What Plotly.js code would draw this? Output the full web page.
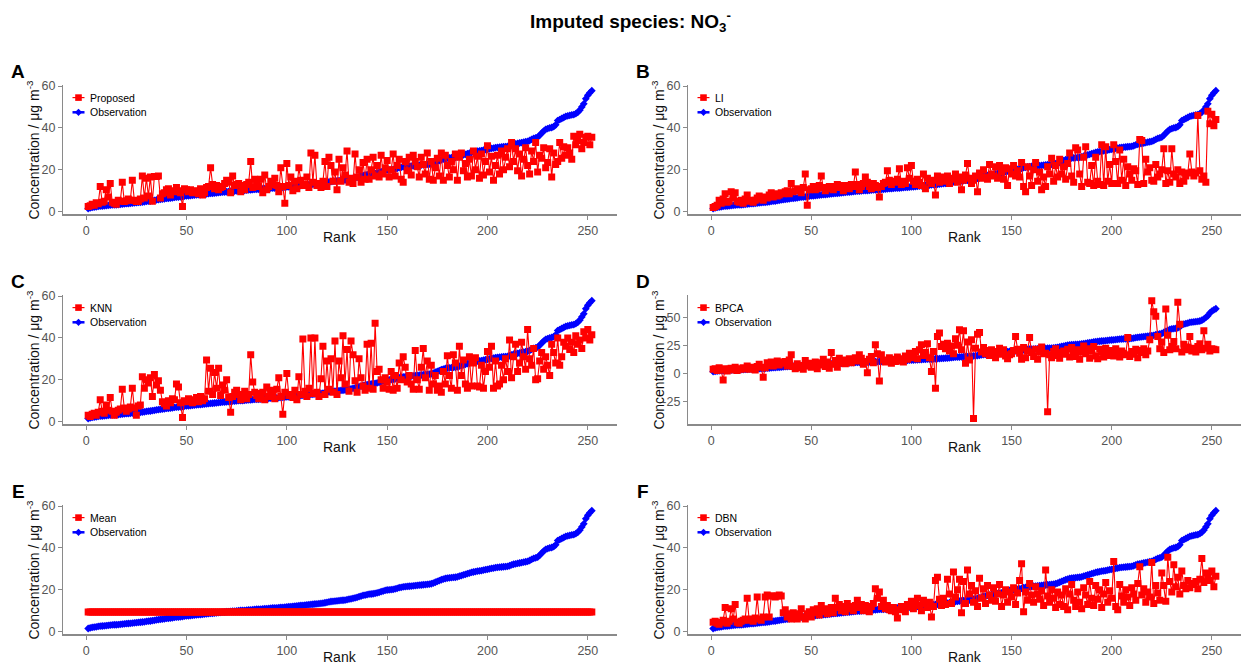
<!DOCTYPE html>
<html>
<head>
<meta charset="utf-8">
<script src="https://cdn.plot.ly/plotly-3.0.1.min.js"></script>
<style>
html,body{margin:0;padding:0;background:#ffffff;}
#chart{width:1243px;height:664px;}
</style>
</head>
<body>
<div id="chart"></div>
<script>
// ---------------- data ----------------
const observation = [
1.5,1.8,2.0,2.2,2.3,2.5,2.6,2.7,2.8,2.9,
3.0,3.1,3.2,3.3,3.3,3.4,3.5,3.6,3.7,3.8,
3.9,4.0,4.1,4.2,4.3,4.4,4.5,4.6,4.7,4.9,
5.0,5.1,5.3,5.4,5.6,5.7,5.9,6.0,6.1,6.3,
6.4,6.5,6.6,6.8,6.9,7.0,7.1,7.2,7.4,7.5,
7.6,7.7,7.8,7.9,8.0,8.1,8.2,8.3,8.4,8.5,
8.6,8.7,8.8,8.9,9.0,9.1,9.2,9.3,9.4,9.5,
9.6,9.7,9.8,9.8,9.9,10.0,10.1,10.1,10.2,10.3,
10.4,10.4,10.5,10.6,10.7,10.7,10.8,10.9,11.0,11.0,
11.1,11.2,11.3,11.3,11.4,11.5,11.6,11.6,11.7,11.8,
11.9,12.0,12.1,12.2,12.3,12.4,12.5,12.6,12.7,12.8,
12.9,13.0,13.1,13.2,13.3,13.4,13.5,13.6,13.8,14.0,
14.2,14.4,14.5,14.6,14.7,14.8,14.9,15.0,15.1,15.3,
15.5,15.7,15.9,16.1,16.4,16.7,17.0,17.3,17.5,17.7,
17.9,18.0,18.1,18.3,18.5,18.8,19.1,19.4,19.7,19.9,
20.0,20.1,20.2,20.4,20.7,21.0,21.2,21.4,21.5,21.6,
21.7,21.8,21.9,22.0,22.1,22.2,22.3,22.4,22.5,22.6,
22.7,22.9,23.2,23.6,24.0,24.4,24.8,25.1,25.4,25.6,
25.7,25.8,25.9,26.0,26.2,26.5,26.8,27.1,27.4,27.7,
28.0,28.3,28.5,28.7,28.9,29.0,29.2,29.4,29.6,29.8,
30.0,30.2,30.4,30.6,30.7,30.8,30.9,31.0,31.1,31.2,
31.5,31.9,32.2,32.4,32.6,32.8,33.0,33.2,33.4,33.6,
34.0,34.5,35.0,35.3,35.6,36.5,37.5,38.5,39.3,39.7,
40.0,40.2,40.6,41.5,43.5,44.0,44.5,45.0,45.5,45.8,
46.0,46.2,46.4,46.8,47.5,48.5,50.0,51.5,54.0,55.6,
56.8,57.8
];

const proposed = [
2.5,2.8,3.5,3.0,4.2,3.8,12.0,4.5,5.0,10.5,
7.0,13.5,4.5,4.0,3.5,5.5,5.0,14.0,4.8,5.2,
6.0,5.5,15.0,5.5,4.8,5.0,6.0,17.0,6.5,16.0,
7.5,16.5,5.0,16.8,16.8,17.0,6.5,8.5,9.0,10.5,
11.0,8.0,10.0,9.5,11.5,10.0,9.0,2.5,11.0,10.5,
9.5,10.5,9.0,9.8,10.0,8.5,11.0,8.0,9.0,11.5,
12.0,21.0,13.0,11.0,12.5,10.5,11.5,12.0,13.5,15.0,
14.0,9.0,17.0,12.5,13.0,13.5,9.5,12.5,10.5,13.0,
14.0,24.0,11.5,15.5,13.5,12.0,15.5,9.0,17.5,10.5,
12.0,14.5,13.0,16.0,12.5,9.5,21.0,12.0,4.0,23.0,
12.5,16.5,10.0,14.5,11.0,21.0,15.0,12.5,13.0,16.5,
11.5,28.0,14.0,27.0,12.5,13.5,11.5,14.5,24.0,12.0,
26.0,22.0,14.5,19.0,10.5,25.0,14.5,21.0,17.5,29.0,
14.0,16.0,13.5,27.5,16.5,20.0,14.0,23.5,15.5,25.0,
15.5,20.0,26.0,17.0,22.0,16.5,27.0,18.0,21.0,24.5,
16.5,20.0,27.5,17.0,22.0,25.0,15.5,14.0,24.0,19.5,
26.0,17.5,27.0,24.0,21.5,16.5,26.0,22.5,18.0,28.0,
15.5,24.0,15.0,21.0,25.5,17.0,28.0,15.0,27.0,22.0,
16.5,24.0,20.0,27.5,15.0,26.0,28.0,19.5,23.0,16.5,
25.0,17.0,29.0,20.0,26.5,16.0,27.5,17.5,24.0,31.5,
19.0,26.5,15.0,22.0,27.0,18.0,29.0,20.0,26.0,30.0,
21.5,33.0,24.0,30.0,19.5,27.5,17.0,25.0,30.5,22.0,
18.0,29.0,24.0,33.0,19.0,27.0,25.5,30.5,21.0,23.5,
30.0,16.5,28.0,22.5,24.0,33.0,25.5,31.0,27.0,30.5,
28.0,25.0,36.0,32.0,34.0,37.0,30.0,33.0,35.5,36.0,
32.0,35.5
];

const li = [
2.0,2.5,3.0,5.5,4.0,6.0,8.5,4.5,5.0,9.5,
6.5,9.0,5.0,4.5,5.5,4.0,6.0,8.0,5.0,5.5,
4.5,5.5,6.5,7.5,6.0,5.5,7.0,6.5,8.0,9.0,
7.0,8.5,7.5,8.0,9.0,8.5,9.5,10.0,8.5,13.5,
9.5,10.0,11.0,10.5,9.0,11.5,18.0,3.0,10.5,11.0,
12.0,10.5,11.0,12.5,17.0,11.5,10.0,11.5,12.0,11.0,
10.5,12.0,13.0,11.5,12.5,10.0,11.5,12.5,11.0,13.0,
12.0,19.0,13.0,10.5,12.0,13.5,16.5,14.0,12.0,11.0,
13.5,12.5,11.5,7.0,12.0,13.5,14.0,19.5,15.0,13.0,
14.5,14.0,15.5,20.5,13.0,14.5,13.5,21.0,16.0,22.0,
14.5,13.0,15.5,14.0,12.5,18.0,11.0,16.0,14.5,13.5,
15.0,8.0,17.0,14.0,16.5,14.5,15.0,17.0,13.5,16.0,
15.5,18.0,14.0,16.5,10.5,15.0,17.5,23.0,16.0,13.5,
15.0,17.0,9.5,18.5,16.0,20.0,16.5,15.5,22.5,18.0,
17.0,21.5,16.0,22.0,19.0,15.5,21.0,12.5,20.5,18.0,
22.0,17.0,19.5,16.5,23.5,12.0,9.5,21.5,17.0,12.5,
20.0,23.5,14.5,19.0,10.5,16.5,12.0,21.5,18.0,25.5,
14.5,22.0,16.5,25.0,18.0,21.5,15.5,23.0,28.0,17.0,
14.0,30.5,29.5,18.0,12.0,26.0,31.0,14.0,13.5,22.0,
12.5,26.0,14.5,13.0,32.0,12.5,31.0,14.5,22.5,13.5,
32.0,24.0,13.5,29.5,15.0,25.0,12.5,21.5,18.0,15.0,
20.5,19.5,13.0,34.5,34.0,13.5,25.0,19.0,21.0,15.0,
14.5,22.5,16.5,18.0,20.0,30.0,13.5,19.5,14.0,30.0,
18.0,16.5,20.0,13.5,19.0,14.5,17.0,18.5,27.5,19.0,
17.0,18.5,46.0,19.5,15.5,17.0,14.0,48.0,42.0,46.5,
41.0,44.0
];

const knn = [
3.0,2.5,3.5,4.0,3.0,4.5,10.5,5.0,4.0,8.0,
5.5,11.5,5.0,3.0,4.5,5.5,6.0,15.5,6.5,5.0,
6.0,7.0,16.0,6.5,3.0,7.5,8.0,21.5,16.0,20.0,
18.5,21.0,12.0,22.5,17.5,19.5,15.0,9.5,8.5,7.5,
10.0,9.0,11.0,10.5,18.0,16.5,9.0,2.0,10.0,9.5,
11.0,10.0,9.0,10.5,11.5,9.5,12.0,10.0,11.0,29.5,
14.5,25.5,13.0,23.5,16.0,25.5,12.5,17.5,15.0,20.0,
11.5,4.5,12.0,14.0,15.0,13.0,10.5,12.0,14.5,11.0,
13.0,32.0,19.0,14.0,12.5,11.0,13.5,14.0,10.5,16.5,
12.0,15.0,13.5,11.0,15.5,21.0,12.0,3.5,14.0,23.0,
12.5,13.0,11.5,15.0,10.5,21.5,13.0,39.5,14.5,12.0,
16.0,40.0,13.5,40.0,14.0,12.0,20.5,36.0,13.0,29.0,
15.5,30.0,14.0,38.5,13.0,29.0,21.0,41.0,18.0,34.5,
14.5,38.5,32.0,19.5,14.0,30.0,21.0,17.0,15.0,37.0,
16.0,37.5,15.5,47.0,24.0,25.0,20.0,16.0,21.0,19.0,
15.5,24.0,15.0,22.0,16.0,28.0,20.0,31.0,26.0,19.0,
22.0,18.0,15.5,34.0,20.0,15.5,26.0,35.0,21.0,29.0,
15.0,27.0,18.0,22.0,15.0,17.0,14.0,24.0,18.0,31.5,
22.0,16.0,32.0,28.0,15.0,36.0,22.0,29.5,18.0,16.0,
31.0,17.0,28.0,30.5,17.0,16.5,27.0,16.0,24.0,33.5,
26.0,36.0,16.0,29.0,17.0,18.0,27.0,20.0,30.0,24.0,
39.0,21.0,31.0,37.0,24.0,28.0,38.0,31.0,25.0,44.0,
30.0,27.0,35.0,20.0,20.5,29.0,33.0,25.0,31.0,27.0,
22.0,37.0,33.0,28.0,40.0,27.0,31.0,38.0,36.0,40.0,
34.5,38.0,33.0,41.0,37.0,39.0,35.0,43.0,40.0,44.0,
39.0,41.5
];

const bpca = [
3.5,4.0,2.5,5.0,3.0,-6.0,4.0,2.0,3.5,4.5,
3.0,5.5,2.5,4.0,3.5,5.0,4.0,6.5,3.5,5.5,
4.5,3.0,6.0,8.0,5.5,-3.5,5.0,9.5,7.0,10.0,
6.5,9.5,11.0,7.5,10.0,9.0,10.5,6.5,12.0,16.5,
6.0,4.0,8.5,5.0,7.0,3.5,11.5,6.5,9.0,5.5,
8.0,10.0,4.0,7.5,9.5,12.5,6.0,10.0,4.5,18.5,
8.0,11.5,5.5,13.5,9.0,12.0,8.5,10.5,13.0,9.5,
12.0,14.0,11.0,16.5,13.5,8.0,10.5,0.5,12.5,15.0,
9.5,25.5,17.5,-7.0,16.5,12.0,10.0,11.5,14.0,9.0,
12.5,10.5,14.5,11.0,13.0,10.0,15.5,12.5,18.0,14.0,
16.5,19.5,13.0,21.0,25.5,16.0,18.5,26.5,14.0,1.5,
19.5,-13.5,33.0,36.0,24.0,26.0,22.0,27.0,20.0,24.5,
17.5,31.0,25.0,39.0,21.0,38.0,9.0,28.0,12.0,30.0,
-40.5,22.5,35.0,36.5,19.0,23.0,17.5,20.5,16.0,21.0,
18.5,14.0,19.5,22.5,17.0,21.0,15.5,13.0,16.5,17.5,
20.5,33.0,21.5,18.0,12.5,23.0,14.0,20.0,32.0,18.5,
15.0,21.5,12.5,19.0,23.5,17.5,18.0,-34.5,16.5,14.0,
19.5,22.0,16.0,13.5,18.5,20.0,17.0,21.5,14.5,23.0,
17.5,15.0,21.0,12.5,19.0,24.5,17.5,22.0,13.5,20.0,
24.0,15.5,13.0,21.5,19.0,14.5,22.5,18.0,16.0,20.5,
15.5,22.0,17.5,14.5,20.0,18.0,16.5,32.0,15.0,19.5,
17.0,21.5,14.0,20.5,18.5,22.0,16.5,20.0,30.0,65.0,
55.0,51.0,33.0,22.0,28.0,18.5,57.5,34.0,21.0,24.0,
28.5,22.0,63.5,44.0,19.0,26.0,21.0,23.5,33.0,20.0,
22.5,19.0,24.0,26.5,21.0,38.0,22.5,26.0,20.0,22.0,
21.5,21.0
];

// the "Mean" imputation is a single constant value for every rank
const meanValue = 9.4;

const dbn = [
4.5,5.0,4.0,3.5,4.5,5.5,11.5,4.0,5.0,11.0,
6.0,13.0,4.5,4.0,5.0,5.5,6.0,16.0,5.5,6.0,
5.0,6.5,16.5,6.0,5.5,7.0,16.5,17.5,7.0,17.0,
17.0,16.5,17.0,17.5,17.0,9.0,10.5,7.0,8.5,6.0,
9.0,7.5,6.0,8.5,11.0,7.0,6.0,8.5,9.5,7.0,
10.5,9.0,11.0,8.0,12.5,9.5,11.0,8.5,10.0,11.5,
9.0,16.0,11.5,13.0,10.0,12.0,9.5,13.5,11.0,12.0,
10.0,12.5,15.0,11.5,13.0,10.0,12.5,11.0,9.5,12.0,
13.5,20.5,16.0,19.0,12.0,15.0,11.0,12.5,10.5,10.0,
11.5,9.5,6.5,10.5,12.0,11.0,9.5,13.0,12.0,14.5,
11.0,13.5,16.0,12.5,10.0,15.0,13.5,11.5,14.0,7.0,
12.0,24.5,26.0,15.5,12.5,16.0,13.0,25.0,18.0,13.5,
28.5,16.5,20.0,25.0,9.0,24.0,13.5,29.5,18.0,22.0,
14.0,19.5,12.0,25.5,16.0,20.5,13.5,22.0,17.5,15.0,
21.0,14.5,18.0,22.5,12.0,17.5,20.0,14.0,19.0,16.5,
21.0,13.0,18.5,24.5,32.5,9.5,19.0,15.0,23.0,17.5,
14.0,21.5,18.0,15.5,19.5,12.5,29.5,17.0,14.0,20.0,
16.0,11.5,19.0,13.0,17.5,12.0,20.5,10.5,18.0,22.5,
15.0,12.0,19.0,14.0,11.0,21.0,17.5,13.0,24.0,16.0,
12.5,22.0,15.5,20.0,11.5,18.0,23.5,14.0,19.5,16.0,
33.5,12.0,10.5,22.5,17.0,14.0,20.0,16.5,12.5,21.0,
18.0,15.0,23.0,31.0,17.5,20.5,14.0,19.0,16.5,33.0,
13.5,22.0,18.5,15.0,28.0,22.0,14.5,35.5,24.0,19.0,
32.0,21.5,26.0,18.0,29.0,22.0,20.5,24.5,21.0,23.0,
22.5,24.0,20.5,25.0,35.0,23.5,28.0,26.0,24.5,29.0,
21.5,26.5
];

const panelLetters = ['A','B','C','D','E','F'];
const methodNames = ['Proposed','LI','KNN','BPCA','Mean','DBN'];
const xTickVals = [0,50,100,150,200,250];
const yTickSets = [[0,20,40,60],[0,20,40,60],[0,20,40,60],[-25,0,25,50],[0,20,40,60],[0,20,40,60]];
const obsName = 'Observation';
const titleText = '<b>Imputed species: NO<sub>3</sub><sup>-</sup></b>';
const xTitle = 'Rank';
const yTitle = 'Concentration / \u03bcg m<sup>-3</sup>';

// ---------------- build ----------------
const W = 1243, H = 664;
const rank = observation.map((_, i) => i + 1);
const meanSeries = observation.map(() => meanValue);
const methodValues = [proposed, li, knn, bpca, meanSeries, dbn];

const FONT = 'Arial, "Liberation Sans", Helvetica, sans-serif';
const RED = '#ff0000', BLUE = '#0000ff', AXIS = '#8a8a8a';

// panel boxes in pixels: left, right, top, bottom
const colX = [[63, 617], [688, 1241]];
const rowY = [[84.8, 214.4], [294.8, 424.4], [504.8, 634.4]];

const px = x => x / W;
const py = y => 1 - y / H;

function padRange(arrs) {
  let lo = Infinity, hi = -Infinity;
  arrs.forEach(a => a.forEach(v => { if (v < lo) lo = v; if (v > hi) hi = v; }));
  const d = (hi - lo) * 0.05;
  return [lo - d, hi + d];
}

const traces = [];
const layout = {
  width: W, height: H,
  margin: {l: 0, r: 0, t: 0, b: 0},
  paper_bgcolor: '#ffffff', plot_bgcolor: '#ffffff',
  showlegend: false,
  font: {family: FONT, color: '#000000'},
  annotations: [], shapes: []
};

const xr = [1 - (rank.length - 1) * 0.05, rank.length + (rank.length - 1) * 0.05];

for (let i = 0; i < 6; i++) {
  const col = i % 2, row = Math.floor(i / 2);
  const [L, R] = colX[col];
  const [T, B] = rowY[row];
  const sfx = i === 0 ? '' : String(i + 1);
  const xa = 'x' + sfx, ya = 'y' + sfx;
  const vals = methodValues[i];

  traces.push({
    type: 'scatter', mode: 'lines+markers', x: rank, y: observation,
    xaxis: xa, yaxis: ya, name: obsName,
    line: {color: BLUE, width: 2},
    marker: {color: BLUE, symbol: 'diamond', size: 6, line: {width: 0}},
    hoverinfo: 'skip'
  });
  traces.push({
    type: 'scatter', mode: 'lines+markers', x: rank, y: vals,
    xaxis: xa, yaxis: ya, name: methodNames[i],
    line: {color: RED, width: 1.1},
    marker: {color: RED, symbol: 'square', size: 7, line: {width: 0}},
    hoverinfo: 'skip'
  });

  layout['xaxis' + sfx] = {
    domain: [px(L), px(R)], anchor: ya, range: xr,
    tickvals: xTickVals, ticktext: xTickVals.map(String),
    showline: true, linecolor: AXIS, linewidth: 1.1,
    ticks: 'outside', ticklen: 4, tickcolor: AXIS, tickwidth: 1.1,
    tickfont: {family: FONT, size: 12.5, color: '#555555'},
    showgrid: false, zeroline: false, automargin: false
  };
  layout['yaxis' + sfx] = {
    domain: [py(B), py(T)], anchor: xa, range: padRange([observation, vals]),
    tickvals: yTickSets[i], ticktext: yTickSets[i].map(String),
    showline: true, linecolor: AXIS, linewidth: 1.1,
    ticks: 'outside', ticklen: 4, tickcolor: AXIS, tickwidth: 1.1,
    tickfont: {family: FONT, size: 12.5, color: '#555555'},
    showgrid: false, zeroline: false, automargin: false
  };

  // axis titles
  layout.annotations.push({
    xref: 'paper', yref: 'paper', x: px((L + R) / 2), y: py(B + 22.5),
    xanchor: 'center', yanchor: 'middle', showarrow: false,
    text: xTitle, font: {family: FONT, size: 14, color: '#111111'}
  });
  layout.annotations.push({
    xref: 'paper', yref: 'paper', x: px(L - 30), y: py((T + B) / 2),
    xanchor: 'center', yanchor: 'middle', showarrow: false, textangle: -90,
    text: yTitle, font: {family: FONT, size: 14, color: '#111111'}
  });

  // panel letter
  layout.annotations.push({
    xref: 'paper', yref: 'paper', x: px(L - 45), y: py(T - 13),
    xanchor: 'center', yanchor: 'middle', showarrow: false,
    text: '<b>' + panelLetters[i] + '</b>', font: {family: FONT, size: 19, color: '#000000'}
  });

  // custom legend
  const lx0 = L + 9.5, lx1 = L + 21.5, lc = L + 15.5, ltx = L + 25;
  const y1 = T + 12.8, y2 = T + 27.5;
  layout.shapes.push({type: 'line', xref: 'paper', yref: 'paper',
    x0: px(lx0), x1: px(lx1), y0: py(y1), y1: py(y1), line: {color: RED, width: 1.2}});
  layout.shapes.push({type: 'rect', xref: 'paper', yref: 'paper',
    x0: px(lc - 3.3), x1: px(lc + 3.3), y0: py(y1 + 3.3), y1: py(y1 - 3.3),
    fillcolor: RED, line: {width: 0}});
  layout.shapes.push({type: 'line', xref: 'paper', yref: 'paper',
    x0: px(lx0), x1: px(lx1), y0: py(y2), y1: py(y2), line: {color: BLUE, width: 2.5}});
  layout.shapes.push({type: 'path', xref: 'paper', yref: 'paper',
    path: 'M ' + px(lc - 3.6) + ' ' + py(y2) + ' L ' + px(lc) + ' ' + py(y2 - 3.6) +
          ' L ' + px(lc + 3.6) + ' ' + py(y2) + ' L ' + px(lc) + ' ' + py(y2 + 3.6) + ' Z',
    fillcolor: BLUE, line: {width: 0}});
  layout.annotations.push({
    xref: 'paper', yref: 'paper', x: px(ltx), y: py(y1), xanchor: 'left', yanchor: 'middle',
    showarrow: false, text: methodNames[i], font: {family: FONT, size: 10.5, color: '#000000'}
  });
  layout.annotations.push({
    xref: 'paper', yref: 'paper', x: px(ltx), y: py(y2), xanchor: 'left', yanchor: 'middle',
    showarrow: false, text: obsName, font: {family: FONT, size: 10.5, color: '#000000'}
  });
}

// main title
layout.annotations.push({
  xref: 'paper', yref: 'paper', x: px(630), y: py(22), xanchor: 'center', yanchor: 'middle',
  showarrow: false, text: titleText, font: {family: FONT, size: 19, color: '#000000'}
});

Plotly.newPlot('chart', traces, layout, {displayModeBar: false, staticPlot: true});
</script>
</body>
</html>
